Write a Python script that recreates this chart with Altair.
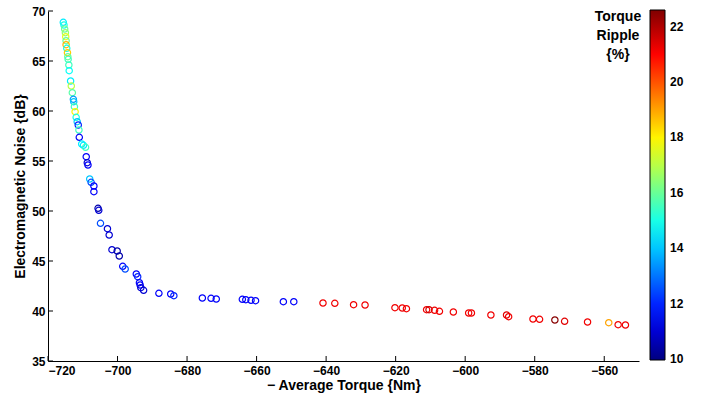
import altair as alt
import pandas as pd

# Data
torque = [
    -715.6, -715.4, -715.2, -715.0, -714.9, -714.8, -714.8, -714.6, -714.4, -714.3,
    -714.2, -714.0, -713.9, -713.5, -713.3, -713.0, -712.7, -712.6, -712.4, -712.2,
    -711.9, -711.6, -711.3, -711.1, -711.0, -710.3, -709.8, -709.2, -709.0, -708.7,
    -708.5, -708.0, -707.6, -706.8, -706.8, -705.6, -705.4, -704.9, -702.9, -702.4,
    -701.6, -700.1, -699.5, -698.5, -697.8, -694.6, -694.2, -693.7, -693.5, -693.3,
    -692.5, -688.1, -684.7, -683.8, -675.6, -673.1, -671.6, -664.1, -663.1, -661.6,
    -660.3, -652.3, -649.3, -640.9, -637.5, -632.1, -628.8, -620.2, -618.1, -616.9,
    -611.1, -610.4, -608.8, -607.4, -603.4, -599.0, -598.2, -592.6, -588.1, -587.5,
    -580.5, -578.6, -574.2, -571.4, -564.8, -558.7, -556.0, -553.9,
]
noise = [
    68.87, 68.60, 68.20, 67.83, 67.43, 67.03, 66.63, 66.27, 65.83, 65.43,
    65.17, 64.60, 64.03, 63.00, 62.50, 61.83, 61.17, 60.93, 60.43, 59.93,
    59.37, 58.93, 58.60, 58.10, 57.37, 56.70, 56.57, 56.37, 55.43, 54.83,
    54.60, 53.20, 52.87, 52.50, 51.93, 50.27, 50.07, 48.77, 48.23, 47.60,
    46.13, 46.00, 45.50, 44.47, 44.20, 43.70, 43.43, 42.83, 42.60, 42.33,
    42.07, 41.77, 41.70, 41.53, 41.30, 41.27, 41.20, 41.17, 41.13, 41.07,
    41.03, 40.93, 40.93, 40.80, 40.77, 40.63, 40.60, 40.33, 40.30, 40.23,
    40.13, 40.13, 40.07, 39.97, 39.90, 39.80, 39.80, 39.60, 39.60, 39.43,
    39.20, 39.17, 39.10, 38.97, 38.90, 38.83, 38.63, 38.60,
]
ripple = [
    14.5, 15.0, 16.0, 16.5, 17.5, 16.0, 18.8, 15.0, 18.5, 16.0,
    15.5, 15.5, 14.8, 14.5, 17.0, 15.8, 13.5, 14.0, 15.5, 18.0,
    15.0, 14.0, 12.0, 15.5, 11.5, 14.5, 14.5, 15.5, 11.5, 11.0,
    11.5, 14.0, 12.5, 11.5, 11.5, 10.5, 11.0, 12.5, 11.0, 11.0,
    11.0, 10.5, 10.5, 11.5, 12.5, 11.5, 12.0, 11.5, 11.5, 11.0,
    11.0, 11.5, 11.5, 12.0, 11.5, 11.5, 11.5, 11.5, 11.5, 11.5,
    11.5, 11.5, 11.5, 21.2, 21.2, 21.2, 21.2, 21.2, 21.2, 21.2,
    21.2, 21.6, 21.2, 21.2, 21.2, 21.2, 21.2, 21.2, 21.4, 21.2,
    21.2, 21.2, 22.5, 21.4, 21.2, 19.0, 21.2, 21.2,
]

x_ticks = [-720, -700, -680, -660, -640, -620, -600, -580, -560]
y_ticks = [35, 40, 45, 50, 55, 60, 65, 70]
cbar_ticks = [10, 12, 14, 16, 18, 20, 22]

# jet colormap stops
cmin, cmax = 9.97, 22.6
jet_pos = [0, 0.125, 0.375, 0.625, 0.875, 1.0]
jet_dom = [cmin + p * (cmax - cmin) for p in jet_pos]
jet_col = ["#000080", "#0000ff", "#00ffff", "#ffff00", "#ff0000", "#800000"]

df = pd.DataFrame({"torque": torque, "noise": noise, "ripple": ripple})
xt = pd.DataFrame({"v": x_ticks})
yt = pd.DataFrame({"v": y_ticks})
ttl = pd.DataFrame({"t": ["Torque\nRipple\n{%}"]})

FONT = "Liberation Sans"
xscale = alt.Scale(domain=[-720, -550], nice=False, zero=False)
yscale = alt.Scale(domain=[35, 70], nice=False, zero=False)

W, H = 591, 350

points = alt.Chart(df).mark_point(
    shape="circle", filled=False, size=40, strokeWidth=1.2, opacity=1
).encode(
    x=alt.X("torque:Q", scale=xscale,
            axis=alt.Axis(values=x_ticks, title="\u2212 Average Torque {Nm}", format="d")),
    y=alt.Y("noise:Q", scale=yscale,
            axis=alt.Axis(values=y_ticks, title="Electromagnetic Noise {dB}")),
    color=alt.Color(
        "ripple:Q",
        scale=alt.Scale(domain=jet_dom, range=jet_col, interpolate="rgb"),
        legend=alt.Legend(
            title="", orient="none", legendX=W + 11, legendY=-1,
            direction="vertical", gradientLength=350, gradientThickness=15,
            gradientStrokeColor="black", gradientStrokeWidth=1,
            values=cbar_ticks, labelFont=FONT, labelFontSize=12,
            labelFontWeight="bold", labelColor="black", labelOffset=5,
            labelBaseline="middle", labelOverlap=False, padding=0,
        ),
    ),
)

xtick_marks = alt.Chart(xt).mark_rule(color="black", strokeWidth=1).encode(
    x=alt.X("v:Q", scale=xscale), y=alt.value(H), y2=alt.value(H - 5)
)
ytick_marks = alt.Chart(yt).mark_rule(color="black", strokeWidth=1).encode(
    y=alt.Y("v:Q", scale=yscale), x=alt.value(0), x2=alt.value(5)
)
legend_title = alt.Chart(ttl).mark_text(
    font=FONT, fontSize=14, fontWeight="bold", lineBreak="\n", lineHeight=19,
    align="center", baseline="top", color="black"
).encode(x=alt.value(W - 21), y=alt.value(-1), text="t:N")

chart = alt.layer(points, xtick_marks, ytick_marks, legend_title).properties(
    width=W, height=H,
    autosize=alt.AutoSizeParams(type="none"),
    padding={"left": 48, "top": 11, "right": 71, "bottom": 32},
).configure_view(stroke=None).configure_axis(
    grid=False, ticks=False, domainColor="black", domainWidth=1,
    labelFont=FONT, labelFontSize=12, labelFontWeight="bold", labelColor="black",
    titleFont=FONT, titleFontSize=14, titleFontWeight="bold", titleColor="black",
).configure_axisX(labelPadding=4, titlePadding=2).configure_axisY(
    labelPadding=3, titlePadding=4
)

chart.save("out.html", embed_options={"renderer": "svg", "actions": False})
